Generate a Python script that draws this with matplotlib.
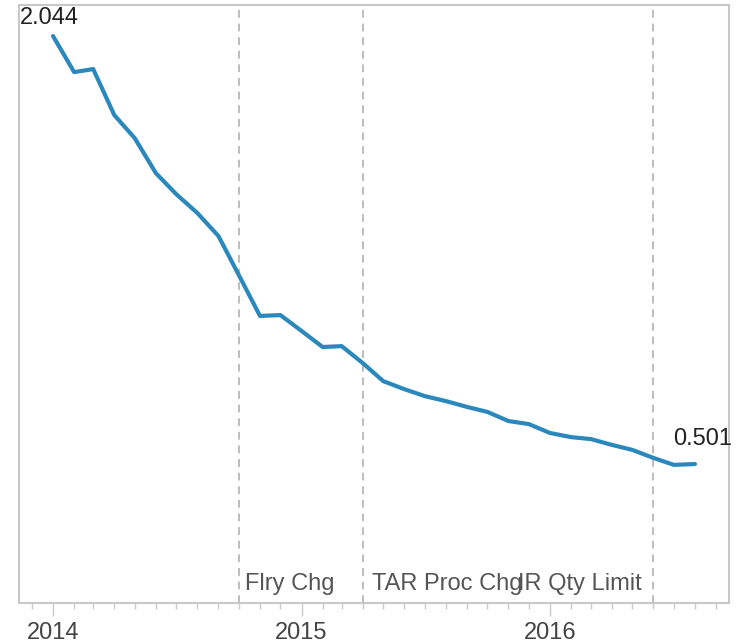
import matplotlib
matplotlib.use("Agg")
import matplotlib.pyplot as plt
import matplotlib.dates as mdates
import numpy as np
import pandas as pd

# ── Data ─────────────────────────────────────────────────────────
months = pd.date_range("2014-01-01", periods=32, freq="MS")
values = [2.044, 1.914, 1.925, 1.759, 1.676, 1.550, 1.474, 1.406,
          1.323, 1.182, 1.035, 1.038, 0.981, 0.923, 0.926, 0.865,
          0.800, 0.771, 0.746, 0.728, 0.707, 0.689, 0.656, 0.645,
          0.613, 0.598, 0.591, 0.570, 0.552, 0.523, 0.498, 0.501]

event_dates = pd.to_datetime(["2014-10-01", "2015-04-01", "2016-06-01"])
event_labels = ["Flry Chg", "TAR Proc Chg", "IR Qty Limit"]

# ── Style ────────────────────────────────────────────────────────
plt.rcParams.update({
    "font.family": ["Liberation Sans", "DejaVu Sans"],
})
LINE = "#2b88bd"
TXT = "#444444"
GRID = "#c8c8c8"
FS = 17

fig = plt.figure(figsize=(7.44, 6.43), dpi=100)
ax = fig.add_axes([19 / 744, 40 / 643, 710 / 744, 598 / 643])

ax.plot(months, values, color=LINE, lw=3, solid_capstyle="round",
        solid_joinstyle="round", zorder=3)

for d in event_dates:
    ax.axvline(d, color="#bdbdbd", lw=1.4, ls=(0, (4, 3)), zorder=1)

# event labels near the bottom
ax.annotate(event_labels[0], (event_dates[0], 0), xytext=(6, 8),
            textcoords="offset pixels", ha="left", va="bottom",
            fontsize=FS, color="#555555")
ax.annotate(event_labels[1], (event_dates[1], 0), xytext=(9, 8),
            textcoords="offset pixels", ha="left", va="bottom",
            fontsize=FS, color="#555555")
ax.annotate(event_labels[2], (event_dates[2], 0), xytext=(-12, 8),
            textcoords="offset pixels", ha="right", va="bottom",
            fontsize=FS, color="#555555")

# start / end value labels
ax.annotate(f"{values[0]:.3f}", (months[0], values[0]), xytext=(-4, 18),
            textcoords="offset pixels", ha="center", va="center",
            fontsize=FS, color="#222222")
ax.annotate(f"{values[-1]:.3f}", (months[-1], values[-1]), xytext=(8, 25),
            textcoords="offset pixels", ha="center", va="center",
            fontsize=FS, color="#222222")

ax.set_xlim(pd.Timestamp("2013-11-12"), pd.Timestamp("2016-09-20"))
ax.set_ylim(0, 2.156)
ax.set_yticks([])

ax.xaxis.set_major_locator(mdates.YearLocator())
ax.xaxis.set_major_formatter(mdates.DateFormatter("%Y"))
ax.xaxis.set_minor_locator(mdates.MonthLocator())
ax.tick_params(axis="x", which="major", length=9, width=1, color=GRID,
               labelsize=FS, labelcolor=TXT, pad=5)
ax.tick_params(axis="x", which="minor", length=4, width=1, color=GRID)

for s in ax.spines.values():
    s.set_color(GRID)
    s.set_linewidth(1.5)

fig.savefig("out.png", dpi=100)
